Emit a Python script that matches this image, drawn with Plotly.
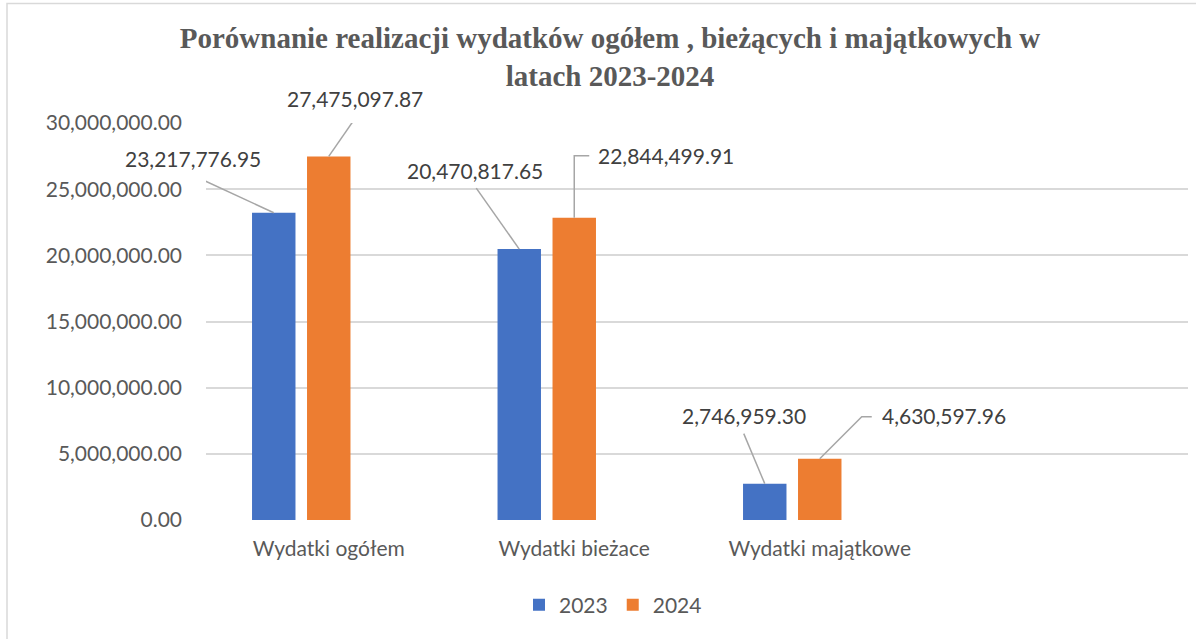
import plotly.graph_objects as go

# ---- data ----
categories = ["Wydatki ogółem", "Wydatki bieżace", "Wydatki majątkowe"]
series_names = ["2023", "2024"]
values_2023 = [23217776.95, 20470817.65, 2746959.30]
values_2024 = [27475097.87, 22844499.91, 4630597.96]
y_ticks = [0, 5000000, 10000000, 15000000, 20000000, 25000000, 30000000]

# ---- style / layout constants ----
W, H = 1196, 639
ML, MR, MT, MB = 206, 8, 123, 119
BLUE, ORANGE = "#4472C4", "#ED7D31"
TXT = "#595959"
LBL = "#404040"
GRID = "#D9D9D9"
BAR_W = 0.177
SHIFT = [-0.224, 0.0]          # bar centre offset from category centre (category units)
COLORS = [BLUE, ORANGE]

# label offsets (pixels, x right / y up) and leader-line paths relative to bar top
label_pos = {
    (0, 0): (-81, 54), (1, 0): (26, 58),
    (0, 1): (-44, 79), (1, 1): (92, 62),
    (0, 2): (-21, 68), (1, 2): (124, 43),
}
leader = {
    (0, 0): [(0, 0), (-80, 37)],
    (1, 0): [(0, 0), (27, 39)],
    (0, 1): [(0, 0), (-43, 61)],
    (1, 1): [(0, 0), (0, 62), (15, 62)],
    (0, 2): [(0, 0), (-21, 50)],
    (1, 2): [(0, 0), (42, 42), (52, 42)],
}

series = [values_2023, values_2024]

fig = go.Figure()
for s, (name, vals) in enumerate(zip(series_names, series)):
    fig.add_trace(go.Bar(
        x=categories, y=vals, name=name,
        marker=dict(color=COLORS[s], line=dict(width=0)),
        width=BAR_W, offset=SHIFT[s] - BAR_W / 2,
        hoverinfo="skip",
    ))

annotations = []
shapes = []
for s, vals in enumerate(series):
    for i, v in enumerate(vals):
        bx = i + SHIFT[s]
        dx, dy = label_pos[(s, i)]
        annotations.append(dict(
            x=bx, y=v, xref="x", yref="y", text=f"{v:,.2f}",
            showarrow=False, xshift=dx, yshift=dy,
            xanchor="center", yanchor="middle",
            font=dict(family="Lato", size=21, color=LBL),
        ))
        pts = leader[(s, i)]
        path = "M" + " L".join(f"{px},{py}" for px, py in pts)
        shapes.append(dict(
            type="path", path=path, xref="x", yref="y",
            xsizemode="pixel", ysizemode="pixel", xanchor=bx, yanchor=v,
            line=dict(color="#A6A6A6", width=1.5),
        ))

# chart-area border
pw = W - ML - MR
ph = H - MT - MB
shapes.append(dict(
    type="rect", xref="paper", yref="paper",
    x0=(7 - ML) / pw, x1=(W + 20 - ML) / pw,
    y0=(H - MB - (H + 20)) / ph, y1=(H - MB - 3.5) / ph,
    line=dict(color=GRID, width=1.5), fillcolor="rgba(0,0,0,0)", layer="below",
))

fig.update_layout(
    width=W, height=H, autosize=False,
    margin=dict(l=ML, r=MR, t=MT, b=MB, pad=0),
    paper_bgcolor="white", plot_bgcolor="white",
    barmode="group",
    title=dict(
        text="Porównanie realizacji wydatków ogółem , bieżących i majątkowych w<br>latach 2023-2024",
        font=dict(family="Liberation Serif", size=29, color=TXT, weight="bold"),
        x=610 / W, xanchor="center", xref="container",
        y=1 - 48 / H, yanchor="middle", yref="container",
    ),
    font=dict(family="Lato", size=21, color=TXT),
    legend=dict(
        orientation="h", xref="container", yref="container",
        x=613 / W, xanchor="center", y=1 - 605 / H, yanchor="middle",
        font=dict(family="Lato", size=21, color=TXT),
        bgcolor="rgba(0,0,0,0)",
    ),
    xaxis=dict(
        type="category", categoryorder="array", categoryarray=categories,
        range=[-0.5, 3.5], showgrid=False, zeroline=False, showline=False,
        ticks="", ticklabelstandoff=14,
        tickfont=dict(family="Lato", size=21, color=TXT),
        fixedrange=True,
    ),
    yaxis=dict(
        range=[0, 30000000], tickvals=y_ticks, tickformat=",.2f",
        showgrid=True, gridcolor=GRID, gridwidth=1.5, zeroline=False,
        showline=False, ticks="", ticklabelstandoff=23,
        tickfont=dict(family="Lato", size=21, color=TXT),
        fixedrange=True,
    ),
    annotations=annotations,
    shapes=shapes,
)

fig.write_html("out.html", post_script="document.body.style.margin='0';",
               config={"displayModeBar": False})
